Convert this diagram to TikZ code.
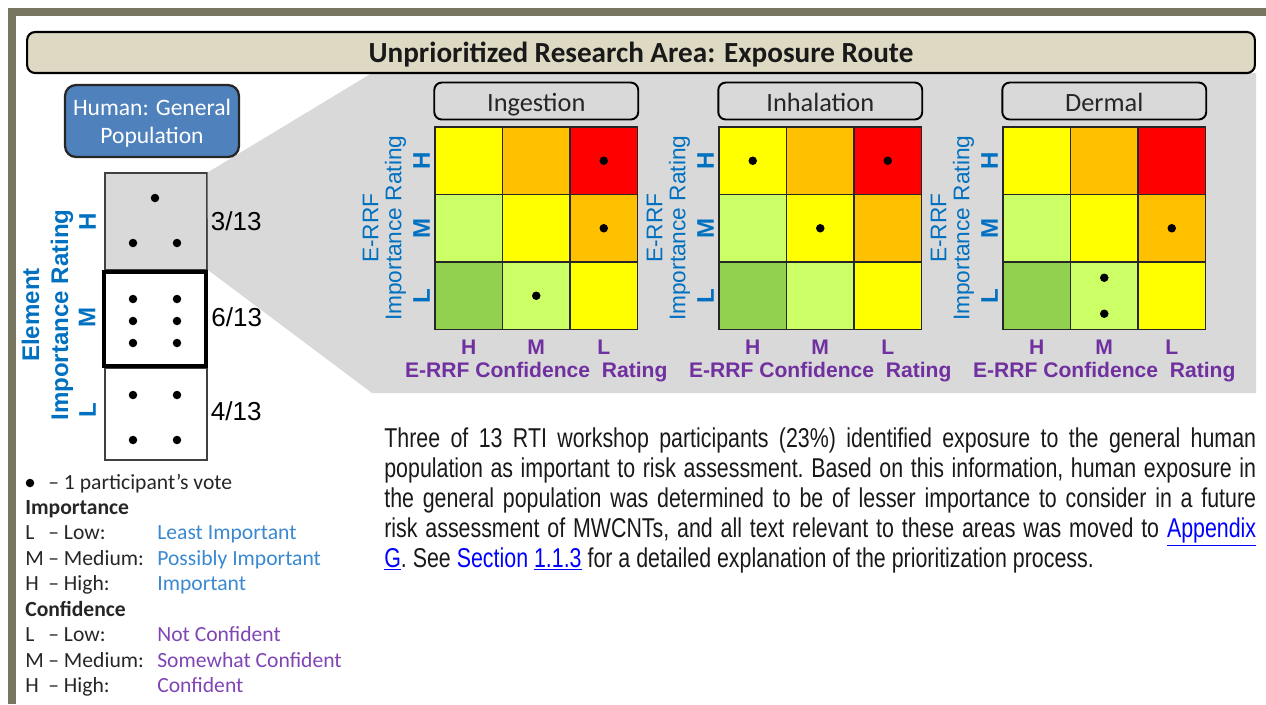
\documentclass[tikz,border=0pt]{standalone}
\usepackage{fontspec}
\setmainfont{Carlito}
\newfontfamily\arialfont{Liberation Sans}
\newfontfamily\narrowfont[FakeStretch=0.785]{Liberation Sans}
\usepackage{xcolor}
\usepackage{tikz}
\usetikzlibrary{positioning}

\definecolor{framegray}{HTML}{787560}
\definecolor{bannerbeige}{HTML}{DDD9C3}
\definecolor{panelgray}{HTML}{D9D9D9}
\definecolor{elementblue}{HTML}{4F81BD}
\definecolor{errfblue}{HTML}{0070C0}
\definecolor{errfpurple}{HTML}{7030A0}
\definecolor{legblue}{HTML}{3A89D0}
\definecolor{legpurple}{HTML}{7F45B5}
\definecolor{linkblue}{HTML}{0000FF}
\definecolor{riskyellow}{HTML}{FFFF00}
\definecolor{riskorange}{HTML}{FFC000}
\definecolor{riskred}{HTML}{FF0000}
\definecolor{risklime}{HTML}{CCFF66}
\definecolor{riskgreen}{HTML}{92D050}

\begin{document}
\begin{tikzpicture}[
    x=0.02cm, y=-0.02cm,
    banner/.style={rectangle, draw=black, line width=1.2pt, rounded corners=0.16cm, fill=bannerbeige, minimum width=24.56cm, minimum height=0.82cm, text height=11.5pt, text depth=0pt, text=black!90, font=\fontsize{16.6}{18}\selectfont\bfseries},
    element/.style={rectangle, draw=black!85, line width=1.3pt, rounded corners=0.22cm, fill=elementblue, minimum width=3.48cm, minimum height=1.44cm, align=center, text depth=0pt, text=white, font=\fontsize{13.4}{15.9}\selectfont},
    votebox/.style={rectangle, draw=black!75, line width=0.6pt, minimum width=2.04cm, inner sep=0pt},
    fraction/.style={inner sep=0pt, font=\arialfont\fontsize{14.8}{17}\selectfont},
    rating/.style={rotate=90, align=center, text=errfblue, font=\arialfont\bfseries\fontsize{13.7}{16.5}\selectfont},
    route/.style={rectangle, draw=black, line width=1.1pt, rounded corners=0.15cm, fill=panelgray, minimum width=4.08cm, minimum height=0.74cm, text height=12pt, text depth=0pt, text=black!85, font=\fontsize{15}{17}\selectfont},
    cell/.style={rectangle, draw=black!85, line width=0.6pt, minimum size=1.35cm, inner sep=0pt},
    impaxis/.style={rotate=90, align=center, text=errfblue, font=\arialfont\fontsize{12.9}{13.1}\selectfont},
    conf/.style={text=errfpurple, inner sep=0pt, font=\arialfont\bfseries\fontsize{12}{14}\selectfont},
    legend/.style={inner sep=0pt, text=black!85, font=\fontsize{12.3}{14.5}\selectfont},
    vote/.style={radius=0.085cm}
]
\useasboundingbox (0,0) rectangle (1266,704);

% Page frame
\fill[framegray] (8,8) rectangle (1266,16);
\fill[framegray] (8,8) rectangle (16,704);

% Element column
\node[votebox, fill=panelgray, minimum height=1.94cm] (highbox) at (156,221.5) {};
\node[votebox, fill=white, minimum height=1.84cm] (lowbox) at (156,414) {};

% Zoom wedge behind the panels
\fill[panelgray] (highbox.north east) -- (372,73) -- (1256,73) -- (1256,393) -- (372,393) -- (208,270) -- cycle;

\node[votebox, fill=white, draw=black, line width=2.3pt, minimum height=1.88cm] (medbox) at (155,319) {};
\node[banner] (title) at (641,52.5) {Unprioritized Research Area: Exposure Route};
\node[element] (humanpop) at (152,121) {Human: General\\Population};

\node[fraction, right=0.06cm of highbox] (highfrac) {3/13};
\node[fraction, right=0.06cm of medbox, yshift=0.04cm] (medfrac) {6/13};
\node[fraction, right=0.06cm of lowbox, yshift=0.06cm] (lowfrac) {4/13};

\node[rating] (elemH) at ([xshift=-0.34cm]highbox.west) {H};
\node[rating] (elemM) at ([xshift=-0.3cm, yshift=0.04cm]medbox.west) {M};
\node[rating] (elemL) at ([xshift=-0.34cm, yshift=0.08cm]lowbox.west) {L};
\node[rating] (elemaxis) at ([xshift=-1.09cm, yshift=0.08cm]medbox.west) {Element\\Importance Rating};

\foreach \pt in {(155,198),(133,243),(177,243),(133,299),(177,299),(133,321),(177,321),(133,343),(177,343),(133,395),(177,395),(133,440),(177,440)}
    \fill[vote] \pt circle;

% Exposure route panels
\foreach \p/\px/\ptitle in {ing/435/Ingestion, inh/719/Inhalation, der/1003/Dermal} {
    \foreach \r/\c/\col in {1/1/riskyellow, 1/2/riskorange, 1/3/riskred, 2/1/risklime, 2/2/riskyellow, 2/3/riskorange, 3/1/riskgreen, 3/2/risklime, 3/3/riskyellow}
        \node[cell, fill=\col] (\p-\r\c) at ({\px+(\c-0.5)*67.5}, {127+(\r-0.5)*67.5}) {};
    \node[route, above=0.12cm of \p-12] (\p-title) {\ptitle};
    \node[rating] (\p-H) at ([xshift=-0.26cm]\p-11.west) {H};
    \node[rating] (\p-M) at ([xshift=-0.26cm]\p-21.west) {M};
    \node[rating] (\p-L) at ([xshift=-0.26cm]\p-31.west) {L};
    \node[impaxis] (\p-imp) at ([xshift=-1.0cm]\p-21.west) {E-RRF\\Importance Rating};
    \node[conf] (\p-cH) at ([yshift=-0.34cm]\p-31.south) {H};
    \node[conf] (\p-cM) at ([yshift=-0.34cm]\p-32.south) {M};
    \node[conf] (\p-cL) at ([yshift=-0.34cm]\p-33.south) {L};
    \node[conf] (\p-conf) at ([yshift=-0.85cm]\p-32.south) {E-RRF Confidence\ \ Rating};
}

% Votes in the panels
\fill[vote] (ing-13.center) circle;
\fill[vote] (ing-23.center) circle;
\fill[vote] (ing-32.center) circle;
\fill[vote] (inh-11.center) circle;
\fill[vote] (inh-13.center) circle;
\fill[vote] (inh-22.center) circle;
\fill[vote] (der-23.center) circle;
\fill[vote] ([yshift=0.36cm]der-32.center) circle;
\fill[vote] ([yshift=-0.36cm]der-32.center) circle;

% Legend
\node[legend, anchor=base west] (legend) at (25,489) {%
\begin{tabular}[t]{@{}p{0.46cm}@{}p{2.18cm}@{}l@{}}
 & \multicolumn{2}{@{}l}{– 1 participant’s vote}\\
\multicolumn{3}{@{}l}{\textbf{Importance}}\\
L & – Low: & \textcolor{legblue}{Least Important}\\
M & – Medium: & \textcolor{legblue}{Possibly Important}\\
H & – High: & \textcolor{legblue}{Important}\\
\multicolumn{3}{@{}l}{\textbf{Confidence}}\\
L & – Low: & \textcolor{legpurple}{Not Confident}\\
M & – Medium: & \textcolor{legpurple}{Somewhat Confident}\\
H & – High: & \textcolor{legpurple}{Confident}
\end{tabular}};
\fill[vote] (30,483) circle;

% Summary text
\node[anchor=north west, inner sep=0pt, align=left, text=black!90, font=\narrowfont\frenchspacing\fontsize{15.5}{17.07}\selectfont] (summary) at (384,427) {%
\makebox[17.44cm][s]{Three of 13 RTI workshop participants (23\%) identified exposure to the general human}\\
\makebox[17.44cm][s]{population as important to risk assessment. Based on this information, human exposure in}\\
\makebox[17.44cm][s]{the general population was determined to be of lesser importance to consider in a future}\\
\makebox[17.44cm][s]{risk assessment of MWCNTs, and all text relevant to these areas was moved to \textcolor{linkblue}{\underline{Appendix}}}\\
\textcolor{linkblue}{\underline{G}}. See \textcolor{linkblue}{Section} \textcolor{linkblue}{\underline{1.1.3}} for a detailed explanation of the prioritization process.};

\end{tikzpicture}
\end{document}
